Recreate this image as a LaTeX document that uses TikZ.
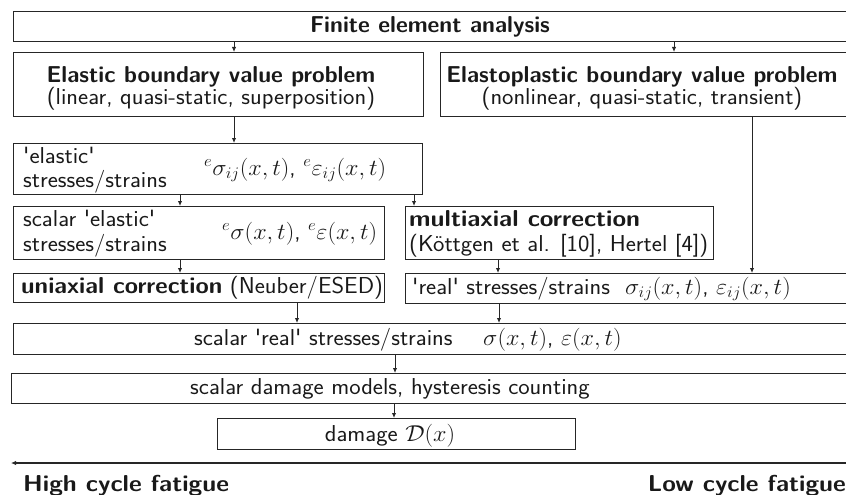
\RequirePackage{fix-cm}
\documentclass[tikz,border=0pt]{standalone}
\usetikzlibrary{arrows.meta,calc}
\newcommand{\qq}{\textquotesingle}
\newcommand{\rg}[1]{\scalebox{1.05}[1]{#1}}
\newcommand{\bd}[1]{\scalebox{1.0}[1]{\bfseries #1}}
\newcommand{\bw}[1]{\scalebox{1.08}[1]{\bfseries #1}}
\newcommand{\pre}{{}^{e}}
\begin{document}
\begin{tikzpicture}[x=1pt,y=-1pt,
  box/.style={draw=black!85, line width=1.2pt, inner sep=0pt, anchor=north west, rectangle},
  arr/.style={-{Latex[length=5pt,width=4.5pt]}, line width=1pt, draw=black!85},
  txt/.style={inner sep=0pt, font=\sffamily\fontsize{23}{23}\selectfont, text=black!90},
]
\useasboundingbox (0,0) rectangle (846,495);
\clip (0,0) rectangle (846,495);
% boxes
\node[box, minimum width=835pt, minimum height=30pt] (fe)    at (13,11)  {};
\node[box, minimum width=410pt, minimum height=64pt] (ebvp)  at (13,52)  {};
\node[box, minimum width=408pt, minimum height=64pt] (pbvp)  at (440,52) {};
\node[box, minimum width=409pt, minimum height=51pt] (est)   at (13,143) {};
\node[box, minimum width=371pt, minimum height=53pt] (sest)  at (13,206) {};
\node[box, minimum width=308pt, minimum height=53pt] (mult)  at (405,206) {};
\node[box, minimum width=371pt, minimum height=29pt] (uni)   at (13,273) {};
\node[box, minimum width=443pt, minimum height=30pt] (real)  at (405,273) {};
\node[box, minimum width=835pt, minimum height=31pt] (sreal) at (13,323) {};
\node[box, minimum width=837pt, minimum height=30pt] (sdam)  at (11,373) {};
\node[box, minimum width=358pt, minimum height=31pt] (dam)   at (217,418) {};
% texts
\node[txt, anchor=base] (tfe) at (430,33) {\bd{Finite element analysis}};
\node[txt, anchor=base] (te1) at (211,82) {\bd{Elastic boundary value problem}};
\node[txt, anchor=base] (te2) at (211,104) {\rg{(linear, quasi-static, superposition)}};
\node[txt, anchor=base] (tp1) at (642,82) {\bd{Elastoplastic boundary value problem}};
\node[txt, anchor=base] (tp2) at (642,104) {\rg{(nonlinear, quasi-static, transient)}};
\node[txt, anchor=base west] (ts1) at (23,163) {\rg{\qq elastic\qq}};
\node[txt, anchor=base west] (ts2) at (23,187) {\rg{stresses/strains}};
\node[txt, anchor=base west] (tsm) at (204,175) {\rg{$\pre\sigma_{ij}(x,t)$, $\pre\varepsilon_{ij}(x,t)$}};
\node[txt, anchor=base west] (tc1) at (23,226) {\rg{scalar \qq elastic\qq}};
\node[txt, anchor=base west] (tc2) at (23,251) {\rg{stresses/strains}};
\node[txt, anchor=base west] (tcm) at (222,239) {\rg{$\pre\sigma(x,t)$, $\pre\varepsilon(x,t)$}};
\node[txt, anchor=base west] (tm1) at (409,226) {\bw{multiaxial correction}};
\node[txt, anchor=base west] (tm2) at (409,251) {\rg{(K\"ottgen et al. [10], Hertel [4])}};
\node[txt, anchor=base west] (tu)  at (21,293) {\rg{\textbf{uniaxial correction} (Neuber/ESED)}};
\node[txt, anchor=base west] (tr)  at (412,294) {\rg{\qq real\qq{} stresses/strains}};
\node[txt, anchor=base west] (trm) at (625,294) {\rg{$\sigma_{ij}(x,t)$, $\varepsilon_{ij}(x,t)$}};
\node[txt, anchor=base west] (tsr) at (194,345) {\rg{scalar \qq real\qq{} stresses/strains}};
\node[txt, anchor=base west] (tsrm) at (483,345) {\rg{$\sigma(x,t)$, $\varepsilon(x,t)$}};
\node[txt, anchor=base] (tsd) at (390,394) {\rg{scalar damage models, hysteresis counting}};
\node[txt, anchor=base] (td)  at (390,441) {\rg{damage $\mathcal{D}(x)$}};
\node[txt, anchor=base west] (thc) at (23,491) {\bw{High cycle fatigue}};
\node[txt, anchor=base east] (tlc) at (846,491) {\bw{Low cycle fatigue}};
% connectors
\draw[arr] (234,0 |- fe.south) -- (234,0 |- ebvp.north);
\draw[arr] (674,0 |- fe.south) -- (674,0 |- pbvp.north);
\draw[arr] (234,0 |- ebvp.south) -- (234,0 |- est.north);
\draw[arr] (180,0 |- est.south) -- (180,0 |- sest.north);
\draw[arr] (414,0 |- est.south) -- (414,0 |- mult.north);
\draw[arr] (180,0 |- sest.south) -- (180,0 |- uni.north);
\draw[arr] (498,0 |- mult.south) -- (498,0 |- real.north);
\draw[arr] (752,0 |- pbvp.south) -- (752,0 |- real.north);
\draw[arr] (297,0 |- uni.south) -- (297,0 |- sreal.north);
\draw[arr] (499,0 |- real.south) -- (499,0 |- sreal.north);
\draw[arr] (395,0 |- sreal.south) -- (395,0 |- sdam.north);
\draw[arr] (394,0 |- sdam.south) -- (394,0 |- dam.north);
\coordinate (hr) at (848,463);
\coordinate (hl) at (11,463);
\draw[arr, line width=1.3pt] (hr) -- (hl);
\end{tikzpicture}
\end{document}
